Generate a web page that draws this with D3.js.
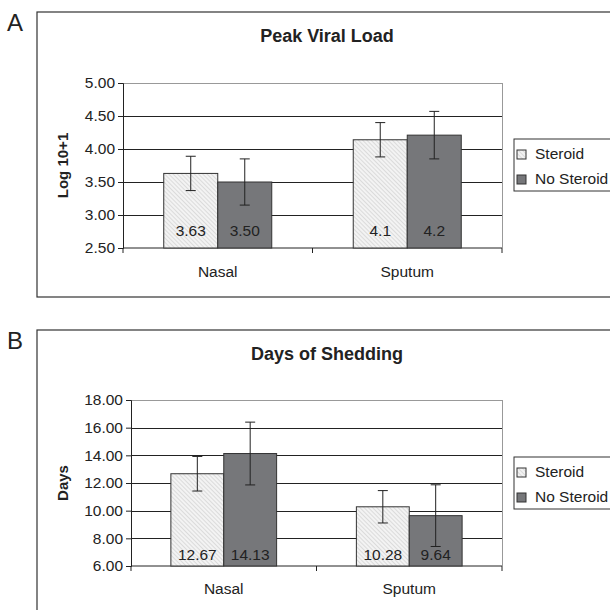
<!DOCTYPE html>
<html>
<head>
<meta charset="utf-8" />
<title>Steroid charts</title>
<script src="https://d3js.org/d3.v7.min.js"></script>
<style>
  body { margin: 0; background: #fff; }
  text { font-family: "Liberation Sans", Arial, sans-serif; fill: #222; }
</style>
</head>
<body>
<svg id="svg1" width="610" height="610"></svg>
<script>
// data
var categories = ["Nasal", "Sputum"];
var seriesNames = ["Steroid", "No Steroid"];

var viralSteroid = [3.63, 4.14];
var viralNoSteroid = [3.50, 4.21];
var viralErrSteroid = [0.26, 0.26];
var viralErrNoSteroid = [0.35, 0.36];
var viralLabelSteroid = ["3.63", "4.1"];
var viralLabelNoSteroid = ["3.50", "4.2"];
var viralTicks = [2.5, 3.0, 3.5, 4.0, 4.5, 5.0];

var daysSteroid = [12.67, 10.28];
var daysNoSteroid = [14.13, 9.64];
var daysErrSteroid = [1.25, 1.17];
var daysErrNoSteroid = [2.27, 2.23];
var daysLabelSteroid = ["12.67", "10.28"];
var daysLabelNoSteroid = ["14.13", "9.64"];
var daysTicks = [6, 8, 10, 12, 14, 16, 18];

var svg = d3.select("#svg1");

// hatch for steroid bars
var defs = svg.append("defs");
var pat = defs.append("pattern")
  .attr("id", "hatch")
  .attr("patternUnits", "userSpaceOnUse")
  .attr("width", 3).attr("height", 3)
  .attr("patternTransform", "rotate(-45)");
pat.append("rect").attr("width", 3).attr("height", 3).attr("fill", "#f3f3f3");
pat.append("line").attr("x1", 0).attr("y1", 0).attr("x2", 0).attr("y2", 3)
  .attr("stroke", "#c4c4c4").attr("stroke-width", 1);

var fills = ["url(#hatch)", "#76777a"];

function drawPanel(p) {
  var g = svg.append("g");

  // outer frame
  g.append("rect")
    .attr("x", p.frame[0]).attr("y", p.frame[1])
    .attr("width", p.frame[2]).attr("height", p.frame[3])
    .attr("fill", "none").attr("stroke", "#333").attr("stroke-width", 1.2);

  g.append("text").attr("x", 7).attr("y", p.letterY)
    .attr("font-size", 24).text(p.letter);

  g.append("text").attr("x", 327).attr("y", p.titleY)
    .attr("text-anchor", "middle").attr("font-size", 18).attr("font-weight", "bold")
    .text(p.title);

  var y = d3.scaleLinear().domain(d3.extent(p.ticks)).range([p.bottom, p.top]);
  var x0 = d3.scaleBand().domain(categories).range([p.left, p.right])
    .paddingInner(0.43).paddingOuter(0.215);
  var x1 = d3.scaleBand().domain(seriesNames).range([0, x0.bandwidth()]);

  // gridlines
  g.selectAll(".grid").data(p.ticks.slice(1)).enter().append("line")
    .attr("x1", p.left).attr("x2", p.right)
    .attr("y1", function(d) { return Math.round(y(d)) + 0.5; })
    .attr("y2", function(d) { return Math.round(y(d)) + 0.5; })
    .attr("stroke", function(d, i) { return i == p.ticks.length - 2 ? "#999" : "#222"; })
    .attr("stroke-width", 1);
  g.append("line").attr("x1", p.right + 0.5).attr("x2", p.right + 0.5)
    .attr("y1", p.top).attr("y2", p.bottom).attr("stroke", "#999");

  // y axis
  var yAxis = d3.axisLeft(y).tickValues(p.ticks).tickFormat(d3.format(".2f")).tickSizeOuter(0).tickSize(5).tickPadding(3);
  var ya = g.append("g").attr("transform", "translate(" + p.left + ",0)").call(yAxis);
  ya.attr("font-size", null).attr("font-family", null);
  ya.selectAll("text").attr("font-size", 15.5).attr("fill", "#222");
  ya.selectAll("line, path").attr("stroke", "#222");

  // x axis
  var xa = g.append("g").attr("transform", "translate(0," + p.bottom + ")");
  xa.append("line").attr("x1", p.left).attr("x2", p.right).attr("stroke", "#222");
  var bounds = [p.left, (p.left + p.right) / 2, p.right];
  xa.selectAll(".tk").data(bounds).enter().append("line")
    .attr("x1", function(d) { return d; }).attr("x2", function(d) { return d; })
    .attr("y1", 0).attr("y2", 5).attr("stroke", "#222");
  xa.selectAll(".lbl").data(categories).enter().append("text")
    .attr("x", function(d) { return x0(d) + x0.bandwidth() / 2; })
    .attr("y", p.catY - p.bottom)
    .attr("text-anchor", "middle").attr("font-size", 15.5)
    .text(function(d) { return d; });

  // y label
  g.append("text")
    .attr("transform", "translate(68," + ((p.top + p.bottom) / 2) + ") rotate(-90)")
    .attr("text-anchor", "middle").attr("font-size", 15).attr("font-weight", "bold")
    .text(p.yLabel);

  // bars
  var rows = [];
  categories.forEach(function(c, i) {
    seriesNames.forEach(function(s, j) {
      rows.push({ cat: c, ser: s, j: j,
        v: p.values[j][i], e: p.errors[j][i], lbl: p.labels[j][i] });
    });
  });

  var bars = g.selectAll(".bar").data(rows).enter().append("g")
    .attr("transform", function(d) { return "translate(" + (x0(d.cat) + x1(d.ser)) + ",0)"; });

  bars.append("rect")
    .attr("y", function(d) { return y(d.v); })
    .attr("width", x1.bandwidth())
    .attr("height", function(d) { return p.bottom - y(d.v); })
    .attr("fill", function(d) { return fills[d.j]; })
    .attr("stroke", "#333").attr("stroke-width", 1);

  bars.append("text")
    .attr("x", x1.bandwidth() / 2).attr("y", p.bottom - p.valueGap)
    .attr("text-anchor", "middle").attr("font-size", 15.5)
    .text(function(d) { return d.lbl; });

  // error bars
  var cx = x1.bandwidth() / 2;
  bars.append("line")
    .attr("x1", cx).attr("x2", cx)
    .attr("y1", function(d) { return y(d.v + d.e); })
    .attr("y2", function(d) { return y(d.v - d.e); })
    .attr("stroke", "#222");
  [1, -1].forEach(function(sgn) {
    bars.append("line")
      .attr("x1", cx - 5).attr("x2", cx + 5)
      .attr("y1", function(d) { return y(d.v + sgn * d.e); })
      .attr("y2", function(d) { return y(d.v + sgn * d.e); })
      .attr("stroke", "#222");
  });

  // legend
  var lg = g.append("g").attr("transform", "translate(514," + p.legendY + ")");
  lg.append("rect").attr("width", 110).attr("height", 52)
    .attr("fill", "#fff").attr("stroke", "#333");
  var items = lg.selectAll(".it").data(seriesNames).enter().append("g")
    .attr("transform", function(d, i) { return "translate(3," + (15 + i * 25) + ")"; });
  items.append("rect").attr("x", 0).attr("y", -4).attr("width", 9).attr("height", 9)
    .attr("fill", function(d, i) { return fills[i]; }).attr("stroke", "#333");
  items.append("text").attr("x", 18).attr("y", 5).attr("font-size", 15.5)
    .text(function(d) { return d; });
}

drawPanel({
  letter: "A", letterY: 31, title: "Peak Viral Load", titleY: 42,
  frame: [37, 12, 600, 285],
  top: 83, bottom: 248, left: 123, right: 502, catY: 277, valueGap: 12,
  ticks: viralTicks, yLabel: "Log 10+1",
  values: [viralSteroid, viralNoSteroid],
  errors: [viralErrSteroid, viralErrNoSteroid],
  labels: [viralLabelSteroid, viralLabelNoSteroid],
  legendY: 139
});

drawPanel({
  letter: "B", letterY: 349, title: "Days of Shedding", titleY: 360,
  frame: [37, 330, 600, 300],
  top: 400, bottom: 566, left: 131, right: 502, catY: 594, valueGap: 6,
  ticks: daysTicks, yLabel: "Days",
  values: [daysSteroid, daysNoSteroid],
  errors: [daysErrSteroid, daysErrNoSteroid],
  labels: [daysLabelSteroid, daysLabelNoSteroid],
  legendY: 457
});
</script>
</body>
</html>
